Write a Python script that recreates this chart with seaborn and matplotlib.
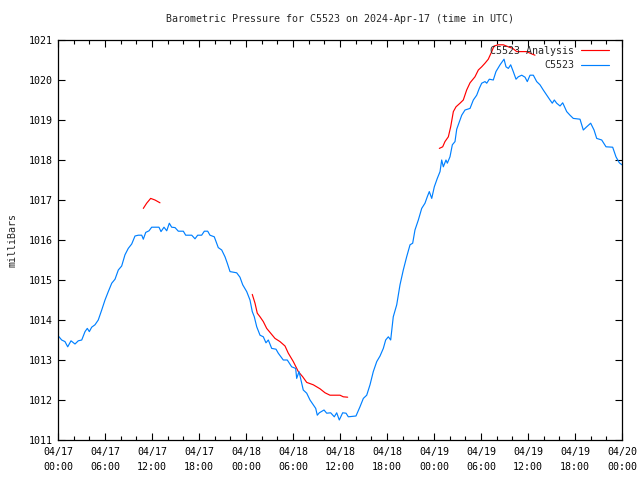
import pandas as pd
import matplotlib
matplotlib.use('Agg')
import matplotlib.pyplot as plt
import matplotlib.dates as mdates
import seaborn as sns

start = pd.Timestamp('2024-04-17 00:00')

# station observations (hours after 04/17 00:00 UTC, mb)
obs_hours = [0.0, 0.47, 0.89, 1.24, 1.66, 2.17, 2.59, 3.03, 3.45, 3.74, 4.0, 4.3, 4.72, 5.14,
             5.58, 6.0, 6.42, 6.86, 7.28, 7.7, 8.13, 8.55, 8.97, 9.41, 9.83, 10.25, 10.69,
             10.89, 11.2, 11.62, 11.96, 12.38, 12.89, 13.15, 13.53, 13.88, 14.21, 14.51,
             14.94, 15.36, 16.0, 16.3, 17.07, 17.49, 17.83, 18.34, 18.68, 19.11, 19.4,
             19.95, 20.26, 20.46, 20.9, 21.32, 21.61, 21.96, 22.81, 23.23, 23.58, 24.09,
             24.51, 24.8, 25.06, 25.37, 25.79, 26.21, 26.55, 26.85, 27.28, 27.83, 28.12,
             28.76, 29.27, 29.83, 30.34, 30.47, 30.77, 31.02, 31.31, 31.75, 32.17, 32.59,
             32.9, 33.1, 33.36, 33.96, 34.3, 34.81, 35.27, 35.58, 35.91, 36.34, 36.77,
             37.06, 38.04, 38.55, 38.98, 39.41, 39.83, 40.25, 40.69, 41.11, 41.53, 41.83,
             42.17, 42.47, 42.8, 43.24, 43.66, 44.08, 44.51, 44.94, 45.28, 45.57, 46.0,
             46.43, 46.85, 47.14, 47.4, 47.71, 48.04, 48.42, 48.77, 48.98, 49.19, 49.53,
             49.7, 50.04, 50.34, 50.68, 50.9, 51.54, 51.96, 52.6, 53.02, 53.45, 53.78,
             54.09, 54.51, 54.73, 55.06, 55.57, 55.91, 56.43, 56.94, 57.19, 57.49, 57.79,
             58.12, 58.47, 58.76, 59.2, 59.62, 59.91, 60.26, 60.68, 61.11, 61.53, 61.95,
             62.39, 62.81, 63.1, 63.36, 63.66, 64.09, 64.43, 64.94, 65.36, 65.78, 66.64,
             67.06, 67.49, 68.0, 68.43, 68.77, 69.41, 69.96, 70.81, 71.23, 71.66, 72.0]
obs_mb = [1013.61, 1013.5, 1013.46, 1013.33, 1013.48, 1013.4, 1013.48, 1013.5, 1013.71,
          1013.79, 1013.71, 1013.82, 1013.88, 1014.0, 1014.25, 1014.5, 1014.71, 1014.92,
          1015.02, 1015.25, 1015.35, 1015.63, 1015.79, 1015.9, 1016.1, 1016.12, 1016.12,
          1016.02, 1016.19, 1016.23, 1016.32, 1016.32, 1016.32, 1016.21, 1016.32, 1016.23,
          1016.42, 1016.32, 1016.31, 1016.22, 1016.22, 1016.12, 1016.12, 1016.03, 1016.12,
          1016.12, 1016.22, 1016.22, 1016.12, 1016.08, 1015.92, 1015.81, 1015.75, 1015.58,
          1015.42, 1015.21, 1015.18, 1015.07, 1014.88, 1014.71, 1014.5, 1014.21, 1014.08,
          1013.83, 1013.62, 1013.58, 1013.43, 1013.5, 1013.29, 1013.27, 1013.17, 1013.0,
          1013.0, 1012.83, 1012.79, 1012.54, 1012.71, 1012.5, 1012.25, 1012.17, 1012.0,
          1011.88, 1011.79, 1011.62, 1011.68, 1011.75, 1011.67, 1011.68, 1011.58, 1011.68,
          1011.5, 1011.68, 1011.67, 1011.58, 1011.6, 1011.83, 1012.04, 1012.12, 1012.38,
          1012.71, 1012.96, 1013.1, 1013.29, 1013.5, 1013.58, 1013.5, 1014.08, 1014.38,
          1014.88, 1015.25, 1015.58, 1015.88, 1015.92, 1016.25, 1016.5, 1016.79, 1016.92,
          1017.08, 1017.21, 1017.04, 1017.33, 1017.54, 1017.71, 1018.0, 1017.83, 1018.0,
          1017.92, 1018.08, 1018.38, 1018.46, 1018.77, 1019.12, 1019.25, 1019.29, 1019.5,
          1019.62, 1019.79, 1019.92, 1019.96, 1019.92, 1020.02, 1020.0, 1020.21, 1020.38,
          1020.52, 1020.33, 1020.29, 1020.38, 1020.21, 1020.02, 1020.08, 1020.12, 1020.07,
          1019.96, 1020.12, 1020.12, 1019.96, 1019.88, 1019.75, 1019.62, 1019.5, 1019.42,
          1019.5, 1019.42, 1019.35, 1019.43, 1019.21, 1019.12, 1019.04, 1019.02, 1018.75,
          1018.83, 1018.92, 1018.75, 1018.54, 1018.5, 1018.33, 1018.32, 1018.08, 1017.93,
          1017.88]

# analysis, three separate pieces
ana_hours = [10.89, 11.32, 11.83, 12.38, 13.02,
             24.8, 25.15, 25.44, 25.79, 26.21, 26.64, 27.15, 27.7, 28.34, 28.98, 29.4,
             30.04, 30.68, 31.24, 31.75, 32.59, 33.45, 34.09, 34.72, 36.0, 36.42, 36.98,
             48.68, 49.11, 49.4, 49.83, 50.13, 50.47, 50.81, 51.32, 51.74, 52.17, 52.6,
             53.23, 53.66, 54.09, 54.51, 54.93, 55.37, 55.66, 56.21, 56.85, 57.49, 58.05,
             58.56, 59.2, 59.83, 60.26, 60.89]
ana_mb = [1016.79, 1016.92, 1017.04, 1017.0, 1016.93,
          1014.64, 1014.42, 1014.17, 1014.08, 1013.96, 1013.79, 1013.67, 1013.54, 1013.46,
          1013.35, 1013.17, 1012.96, 1012.71, 1012.58, 1012.44, 1012.38, 1012.28, 1012.18,
          1012.12, 1012.12, 1012.08, 1012.07,
          1018.29, 1018.33, 1018.46, 1018.58, 1018.83, 1019.21, 1019.33, 1019.42, 1019.5,
          1019.75, 1019.93, 1020.08, 1020.25, 1020.33, 1020.42, 1020.52, 1020.71, 1020.85,
          1020.88, 1020.88, 1020.83, 1020.79, 1020.71, 1020.71, 1020.71, 1020.67, 1020.62]
ana_seg = [0] * 5 + [1] * 22 + [2] * 27

obs = pd.DataFrame({'time': start + pd.to_timedelta(obs_hours, unit='h'), 'mb': obs_mb})
ana = pd.DataFrame({'time': start + pd.to_timedelta(ana_hours, unit='h'), 'mb': ana_mb,
                    'seg': ana_seg})

sns.set_style('ticks')
plt.rcParams['font.family'] = ['DejaVu Sans Mono']
plt.rcParams['font.size'] = 7.2

fig = plt.figure(figsize=(6.4, 4.8), dpi=100)
ax = fig.add_axes([58 / 640, 40 / 480, 564 / 640, 400 / 480])

red_lines = []
for seg, d in ana.groupby('seg'):
    sns.lineplot(data=d, x='time', y='mb', color='#ff0000', lw=0.85, estimator=None,
                 ax=ax, legend=False)
    red_lines.append(ax.lines[-1])
sns.lineplot(data=obs, x='time', y='mb', color='#0080ff', lw=0.85, estimator=None,
             ax=ax, legend=False)
blue_line = ax.lines[-1]

ax.set_xlim(start, start + pd.Timedelta(hours=72))
ax.set_ylim(1011, 1021)
ax.set_yticks(range(1011, 1022))
ax.xaxis.set_major_locator(mdates.HourLocator(byhour=range(0, 24, 6)))
ax.xaxis.set_minor_locator(mdates.HourLocator(byhour=range(0, 24, 2)))
ax.xaxis.set_major_formatter(mdates.DateFormatter('%m/%d\n%H:%M'))
ax.tick_params(which='both', direction='in', top=True, right=True, colors='black',
               labelsize=7.2)
ax.tick_params(which='major', length=5, width=0.8, pad=5)
ax.tick_params(which='minor', length=3, width=0.8)
ax.tick_params(axis='y', pad=4)
for lab in ax.get_xticklabels():
    lab.set_linespacing(1.6)
for s in ax.spines.values():
    s.set_color('black')
    s.set_linewidth(0.9)

ax.set_xlabel('')
ax.set_ylabel('milliBars', fontsize=7.2, labelpad=8)
ax.set_title('Barometric Pressure for C5523 on 2024-Apr-17 (time in UTC)', fontsize=7.2,
             pad=13)

ax.legend([red_lines[0], blue_line], ['C5523 Analysis', 'C5523'], loc='upper right',
          bbox_to_anchor=(1 - 8 / 564, 1 - 1 / 400), frameon=False, markerfirst=False,
          fontsize=7.2, handlelength=2.8, handletextpad=0.7, labelspacing=0.45,
          borderaxespad=0.3, borderpad=0.2)

fig.savefig('out.png', dpi=100)
